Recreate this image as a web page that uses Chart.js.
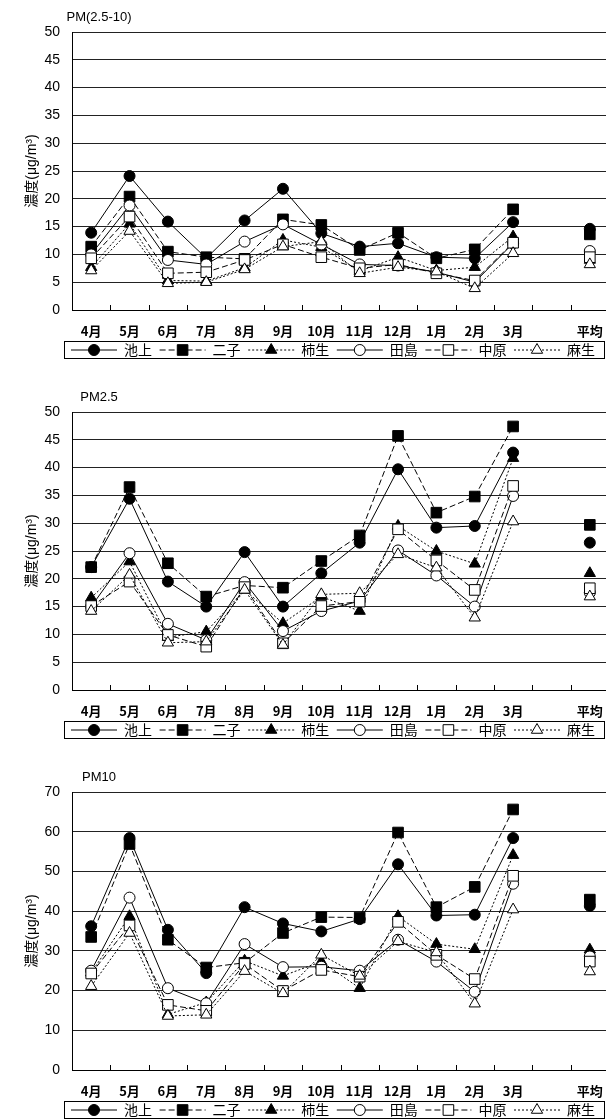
<!DOCTYPE html>
<html>
<head>
<meta charset="utf-8">
<script src="https://cdn.jsdelivr.net/npm/chart.js@4/dist/chart.umd.min.js"></script>
<style>
  body { margin: 0; background: #fff; }
  #wrap { width: 606px; height: 1119px; overflow: hidden; position: relative; }
  canvas { display: block; }
</style>
</head>
<body>
<div id="wrap">
  <canvas id="coarse" width="620" height="380"></canvas>
  <canvas id="fine" width="620" height="380"></canvas>
  <canvas id="pm10" width="620" height="380"></canvas>
</div>
<script>
const months = ['4月', '5月', '6月', '7月', '8月', '9月', '10月', '11月', '12月', '1月', '2月', '3月', '', '平均'];
const stations = ['池上', '二子', '柿生', '田島', '中原', '麻生'];

// PM(2.5-10)
const coarseIkegami  = [13.9, 24.1, 15.9, 9.3, 16.1, 21.8, 13.8, 11.4, 12.0, 9.5, 9.3, 15.8, null, 14.6];
const coarseFutago   = [11.4, 20.4, 10.5, 9.5, 9.2, 16.3, 15.3, 10.8, 13.9, 9.3, 10.9, 18.1, null, 13.6];
const coarseKakio    = [7.7, 15.5, 5.3, 5.2, 7.6, 12.6, 11.3, 7.0, 9.5, 7.1, 7.7, 13.2, null, 9.0];
const coarseTajima   = [10.0, 18.8, 9.0, 8.2, 12.3, 15.4, 11.8, 8.2, 8.0, 6.8, 5.0, 12.0, null, 10.6];
const coarseNakahara = [9.3, 16.8, 6.6, 6.8, 9.0, 11.8, 9.5, 7.5, 8.2, 6.6, 5.3, 12.1, null, 9.5];
const coarseAsao     = [7.1, 14.2, 4.8, 5.0, 7.3, 11.4, 12.3, 6.6, 7.7, 6.9, 3.9, 10.2, null, 8.2];

// PM2.5
const fineIkegami  = [22.1, 34.4, 19.5, 15.0, 24.8, 15.0, 21.0, 26.5, 39.7, 29.2, 29.5, 42.7, null, 26.5];
const fineFutago   = [22.1, 36.5, 22.8, 16.8, 18.8, 18.4, 23.2, 27.8, 45.7, 31.9, 34.8, 47.4, null, 29.7];
const fineKakio    = [16.6, 23.1, 9.5, 10.5, 18.0, 12.0, 16.8, 14.2, 29.5, 25.0, 22.7, 41.7, null, 21.0];
const fineTajima   = [15.0, 24.6, 11.9, 9.0, 19.4, 10.6, 14.2, 16.0, 25.1, 20.6, 15.0, 34.9, null, 17.5];
const fineNakahara = [15.1, 19.5, 9.9, 7.8, 18.5, 8.4, 15.1, 15.9, 28.9, 23.3, 18.0, 36.7, null, 18.3];
const fineAsao     = [14.2, 20.7, 8.5, 8.7, 18.0, 8.1, 17.2, 17.4, 24.4, 22.0, 13.0, 30.3, null, 16.8];

// PM10
const pm10Ikegami  = [36.2, 58.4, 35.3, 24.4, 41.0, 36.9, 34.9, 38.0, 51.8, 38.9, 39.1, 58.4, null, 41.3];
const pm10Futago   = [33.5, 56.9, 32.8, 25.8, 27.0, 34.5, 38.5, 38.4, 59.8, 41.0, 46.1, 65.6, null, 42.9];
const pm10Kakio    = [24.5, 38.7, 14.0, 17.0, 27.5, 23.7, 27.3, 20.6, 38.7, 31.7, 30.4, 54.1, null, 30.3];
const pm10Tajima   = [25.0, 43.4, 20.6, 16.8, 31.7, 25.9, 26.0, 25.0, 32.8, 27.3, 19.7, 46.9, null, 28.6];
const pm10Nakahara = [24.3, 36.4, 16.4, 14.9, 26.7, 19.9, 25.2, 23.5, 37.3, 29.0, 22.9, 48.9, null, 27.3];
const pm10Asao     = [21.1, 34.5, 13.6, 13.9, 24.9, 19.3, 29.0, 23.7, 32.4, 29.6, 16.7, 40.4, null, 24.8];

// line + marker look per station, same order as stations
const looks = [
  { pointStyle: 'circle',   fill: '#000', dash: [],     radius: 5.5 },
  { pointStyle: 'rect',     fill: '#000', dash: [6, 3], radius: 7.5 },
  { pointStyle: 'triangle', fill: '#000', dash: [2, 2], radius: 6.5 },
  { pointStyle: 'circle',   fill: '#fff', dash: [],     radius: 5.5 },
  { pointStyle: 'rect',     fill: '#fff', dash: [6, 3], radius: 7.5 },
  { pointStyle: 'triangle', fill: '#fff', dash: [2, 2], radius: 6.5 }
];

const FONT = '"Liberation Sans", "Noto Sans CJK JP", sans-serif';
const JP_FONT = '"Noto Sans CJK JP", sans-serif';

// small tick marks pointing up into the plot, between categories
const innerTicks = {
  id: 'innerTicks',
  beforeDatasetsDraw(chart) {
    const {ctx, chartArea} = chart;
    const x = chart.scales.x;
    const n = x.ticks.length;
    const w = (x.right - x.left) / n;
    ctx.save();
    ctx.strokeStyle = '#000';
    ctx.lineWidth = 1;
    ctx.beginPath();
    for (let i = 1; i < n; i++) {
      const px = Math.round(x.left + i * w) + 0.5;
      ctx.moveTo(px, chartArea.bottom);
      ctx.lineTo(px, chartArea.bottom - 5);
    }
    ctx.stroke();
    ctx.restore();
  }
};

const panelTitle = {
  id: 'panelTitle',
  afterDraw(chart, args, opts) {
    const {ctx, chartArea} = chart;
    ctx.save();
    ctx.fillStyle = '#000';
    ctx.font = '13px ' + FONT;
    ctx.textAlign = 'center';
    ctx.textBaseline = 'middle';
    ctx.fillText(opts.text, chartArea.left + 27, chartArea.top - 15);
    ctx.restore();
  }
};

// boxed legend under the month labels: line, marker, station name
const lineLegend = {
  id: 'lineLegend',
  afterDraw(chart) {
    const {ctx, chartArea} = chart;
    const top = chartArea.bottom + 31;
    const h = 17;
    const left = chartArea.left - 8;
    const right = 604;
    const y = top + h / 2 + 0.5;
    ctx.save();
    ctx.strokeStyle = '#000';
    ctx.lineWidth = 1;
    ctx.strokeRect(left + 0.5, top + 0.5, right - left, h);
    ctx.font = '14px ' + JP_FONT;
    ctx.textBaseline = 'middle';
    chart.data.datasets.forEach((ds, i) => {
      const x0 = chartArea.left - 1 + i * 88.6;
      ctx.strokeStyle = '#000';
      ctx.setLineDash(ds.borderDash);
      ctx.beginPath();
      ctx.moveTo(x0, y);
      ctx.lineTo(x0 + 46, y);
      ctx.stroke();
      ctx.setLineDash([]);
      ctx.fillStyle = ds.pointBackgroundColor;
      Chart.helpers.drawPoint(ctx, {
        pointStyle: ds.pointStyle, radius: ds.pointRadius, rotation: 0, borderWidth: 1
      }, x0 + 23, y);
      ctx.fillStyle = '#000';
      ctx.fillText(ds.label, x0 + 53, y);
    });
    ctx.restore();
  }
};

function makeChart(id, title, yMax, step, series) {
  const datasets = series.map((values, i) => ({
    label: stations[i],
    data: values,
    borderColor: '#000',
    borderWidth: 1,
    borderDash: looks[i].dash,
    pointStyle: looks[i].pointStyle,
    pointRadius: looks[i].radius,
    pointBackgroundColor: looks[i].fill,
    pointBorderColor: '#000',
    pointBorderWidth: 1,
    spanGaps: false,
    tension: 0,
    order: series.length - i
  }));

  new Chart(document.getElementById(id), {
    type: 'line',
    data: { labels: months, datasets },
    plugins: [innerTicks, panelTitle, lineLegend],
    options: {
      responsive: false,
      animation: false,
      devicePixelRatio: 1,
      layout: { padding: { top: 32, right: 11, bottom: 40, left: 0 } },
      plugins: {
        legend: { display: false },
        tooltip: { enabled: false },
        panelTitle: { text: title }
      },
      scales: {
        x: {
          offset: true,
          grid: { display: false },
          border: { display: true, color: '#000', width: 1 },
          ticks: {
            color: '#000', font: { family: JP_FONT, size: 13, weight: 'bold' },
            padding: 5, maxRotation: 0, autoSkip: false
          },
          afterFit(scale) { scale.height = 30; }
        },
        y: {
          min: 0,
          max: yMax,
          ticks: { stepSize: step, color: '#000', font: { family: FONT, size: 14 }, padding: 12 },
          grid: { color: '#222', lineWidth: 1, drawTicks: false },
          border: { display: true, color: '#000', width: 1 },
          title: {
            display: true,
            text: '濃度(μg/m³)',
            color: '#000',
            font: { family: FONT, size: 14 },
            padding: { top: 24, bottom: 0 }
          },
          afterFit(scale) { scale.width = 72; }
        }
      }
    }
  });
}

makeChart('coarse', 'PM(2.5-10)', 50, 5,
  [coarseIkegami, coarseFutago, coarseKakio, coarseTajima, coarseNakahara, coarseAsao]);
makeChart('fine', 'PM2.5', 50, 5,
  [fineIkegami, fineFutago, fineKakio, fineTajima, fineNakahara, fineAsao]);
makeChart('pm10', 'PM10', 70, 10,
  [pm10Ikegami, pm10Futago, pm10Kakio, pm10Tajima, pm10Nakahara, pm10Asao]);
</script>
</body>
</html>
